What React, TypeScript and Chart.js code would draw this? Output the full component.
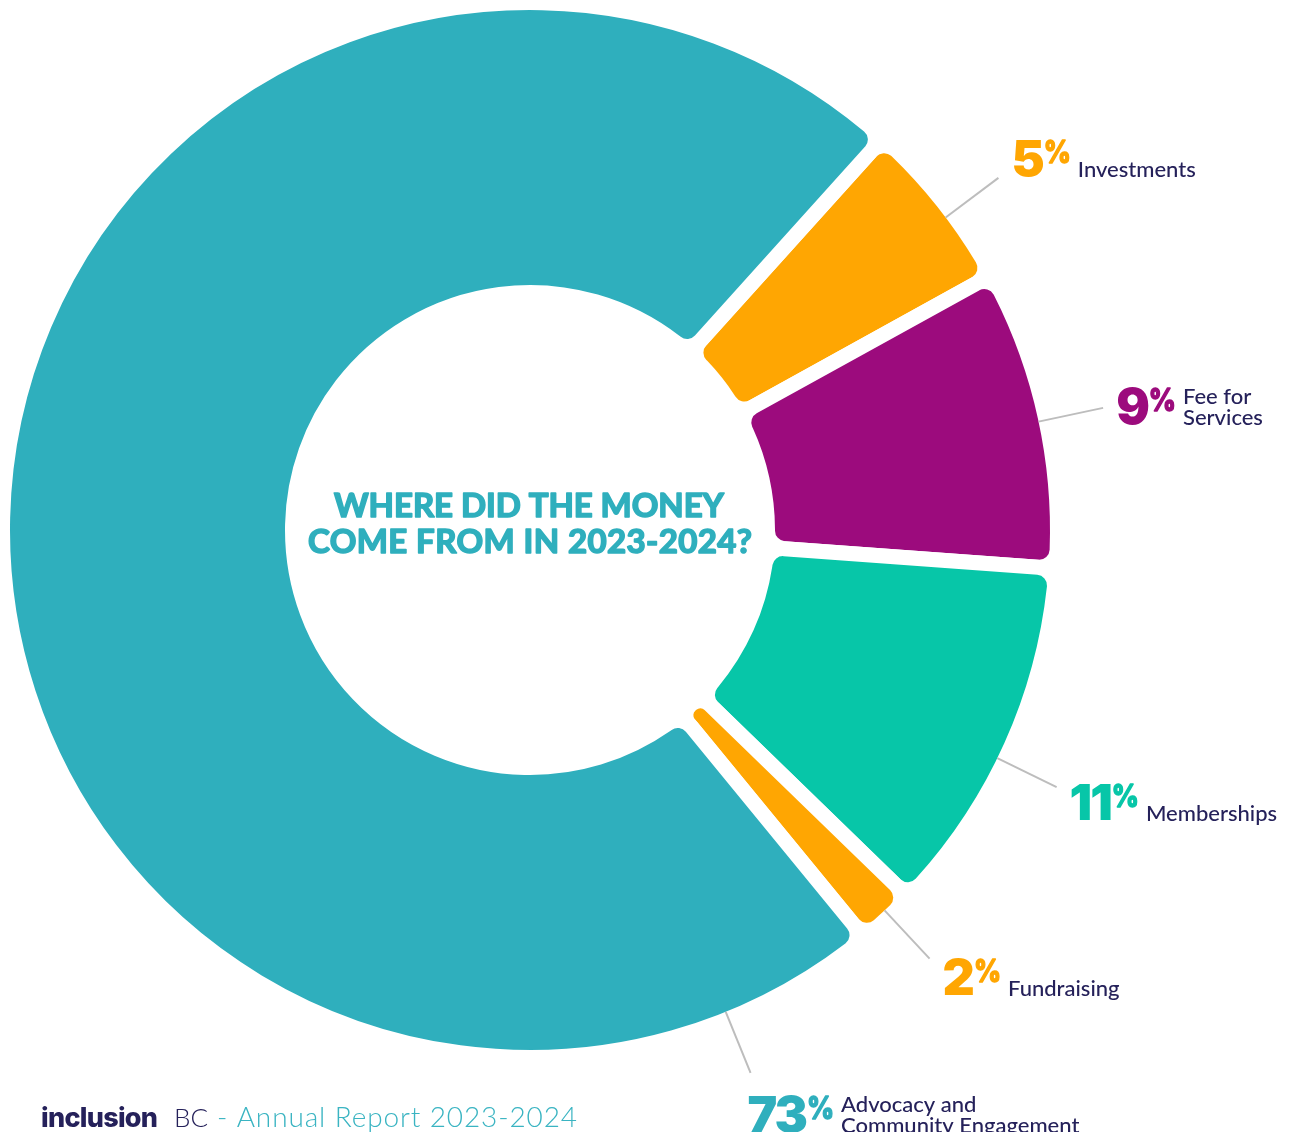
import React, { useEffect, useRef } from 'react';
import { Chart, registerables } from 'chart.js';

Chart.register(...registerables);

// ---- data ----
const CATEGORIES: string[][] = [
  ['Investments'],
  ['Fee for', 'Services'],
  ['Memberships'],
  ['Fundraising'],
  ['Advocacy and', 'Community Engagement'],
];
const SHARES: number[] = [5.3, 9.2, 11.1, 1.8, 72.6];
const COLORS: string[] = ['#FFA602', '#9C0B7D', '#07C6A8', '#FFA602', '#2FAFBD'];
const TITLE_LINES: string[] = ['WHERE DID THE MONEY', 'COME FROM IN 2023-2024?'];
const FOOTER_BRAND = 'inclusion';
const FOOTER_BRAND2 = 'BC';
const FOOTER_TEXT = '- Annual Report 2023-2024';

// ---- styling / layout ----
const NAVY = '#25215A';
const TEAL = '#2FAFBD';
const GAP = 15;
const OUTER_R = 520 + GAP / 2;
const INNER_R = 245 - GAP / 2;
const LABEL_LAYOUT = [
  { f: 0.58, dx: 13, dy: -2 },
  { f: 0.51, dx: 13, dy: 16 },
  { f: 0.546, dx: 13, dy: 33 },
  { f: 0.44, dx: 13, dy: 36 },
  { f: 0.066, dx: -3, dy: 59 },
];

function drawFitted(ctx: any, text: string, x: number, y: number, targetW: number, stroke = 0) {
  ctx.letterSpacing = '0px';
  const w0 = ctx.measureText(text).width;
  const ls = (targetW - w0) / Math.max(1, text.length - 1);
  ctx.letterSpacing = `${ls}px`;
  ctx.fillText(text, x, y);
  if (stroke > 0) {
    ctx.lineWidth = stroke;
    ctx.strokeStyle = ctx.fillStyle;
    ctx.lineJoin = 'round';
    ctx.strokeText(text, x, y);
  }
  ctx.letterSpacing = '0px';
}

const labelPlugin = {
  id: 'donutLabels',
  afterDatasetsDraw(chart: any) {
    const ctx: any = chart.ctx;
    const meta = chart.getDatasetMeta(0);
    const values: number[] = chart.data.datasets[0].data;
    ctx.save();
    let cx = 0, cy = 0;
    meta.data.forEach((el: any, i: number) => {
      const { x, y, startAngle, endAngle, outerRadius } = el.getProps(['x', 'y', 'startAngle', 'endAngle', 'outerRadius'], true);
      cx = x; cy = y;
      const lay = LABEL_LAYOUT[i];
      const a = startAngle + lay.f * (endAngle - startAngle);
      const r1 = outerRadius - GAP / 2;
      const r2 = r1 + 66;
      const x1 = x + Math.cos(a) * r1, y1 = y + Math.sin(a) * r1;
      const x2 = x + Math.cos(a) * r2, y2 = y + Math.sin(a) * r2;
      ctx.strokeStyle = '#BDBDBD';
      ctx.lineWidth = 2;
      ctx.beginPath();
      ctx.moveTo(x1, y1);
      ctx.lineTo(x2, y2);
      ctx.stroke();

      const num = String(Math.round(values[i]));
      const tx = x2 + lay.dx;
      const by = y2 + lay.dy;
      ctx.textAlign = 'left';
      ctx.textBaseline = 'alphabetic';
      ctx.fillStyle = COLORS[i];
      ctx.strokeStyle = COLORS[i];
      ctx.lineJoin = 'round';
      ctx.font = '900 50px Inter';
      ctx.letterSpacing = '-2px';
      ctx.fillText(num, tx, by);
      const nw = ctx.measureText(num).width;
      ctx.letterSpacing = '0px';
      ctx.font = '800 31px Inter';
      const pw = ctx.measureText('%').width * 0.85;
      ctx.save();
      ctx.translate(tx + nw + 1, by - 13);
      ctx.scale(0.85, 1);
      ctx.fillText('%', 0, 0);
      ctx.lineWidth = 1.4;
      ctx.strokeText('%', 0, 0);
      ctx.restore();
      ctx.fillStyle = NAVY;
      ctx.font = '500 22px Lato';
      const lines = CATEGORIES[i];
      const lx = tx + nw + 1 + pw + 7;
      lines.forEach((ln, k) => {
        ctx.fillText(ln, lx, by + 1 - (lines.length - 1 - k) * 21);
      });
    });

    // centre title
    ctx.fillStyle = TEAL;
    ctx.textAlign = 'left';
    ctx.font = 'bold 33px Lato';
    drawFitted(ctx, TITLE_LINES[0], cx - 196, cy - 13, 390, 1.6);
    drawFitted(ctx, TITLE_LINES[1], cx - 222, cy + 23, 444, 1.6);

    // footer
    ctx.fillStyle = NAVY;
    ctx.font = '800 27px Inter';
    drawFitted(ctx, FOOTER_BRAND, 41, 1127, 117);
    ctx.font = '300 26px Lato';
    ctx.fillText(FOOTER_BRAND2, 174, 1127);
    ctx.fillStyle = '#3AB4C2';
    ctx.font = '300 28px Lato';
    drawFitted(ctx, FOOTER_TEXT, 217, 1127, 360);
    ctx.restore();
  },
};

export default function App() {
  const ref = useRef<HTMLCanvasElement>(null);
  useEffect(() => {
    const chart = new Chart(ref.current as HTMLCanvasElement, {
      type: 'doughnut',
      data: {
        labels: CATEGORIES as any,
        datasets: [
          {
            data: SHARES,
            backgroundColor: COLORS,
            borderColor: '#ffffff',
            borderWidth: GAP,
            borderRadius: 18,
            borderJoinStyle: 'round',
            hoverOffset: 0,
          } as any,
        ],
      },
      options: {
        responsive: false,
        animation: false,
        events: [],
        rotation: 42,
        radius: OUTER_R,
        cutout: `${(INNER_R / OUTER_R) * 100}%`,
        layout: { padding: { left: 0, top: 0, right: 230, bottom: 72 } },
        plugins: {
          legend: { display: false },
          tooltip: { enabled: false },
          title: { display: false },
        },
      } as any,
      plugins: [labelPlugin],
    });
    return () => chart.destroy();
  }, []);
  return (
    <div style={{ position: 'absolute', left: 0, top: 0, width: 1290, height: 1132, background: '#ffffff', overflow: 'hidden' }}>
      <canvas ref={ref} width={1290} height={1132} style={{ display: 'block', width: 1290, height: 1132 }} />
    </div>
  );
}
